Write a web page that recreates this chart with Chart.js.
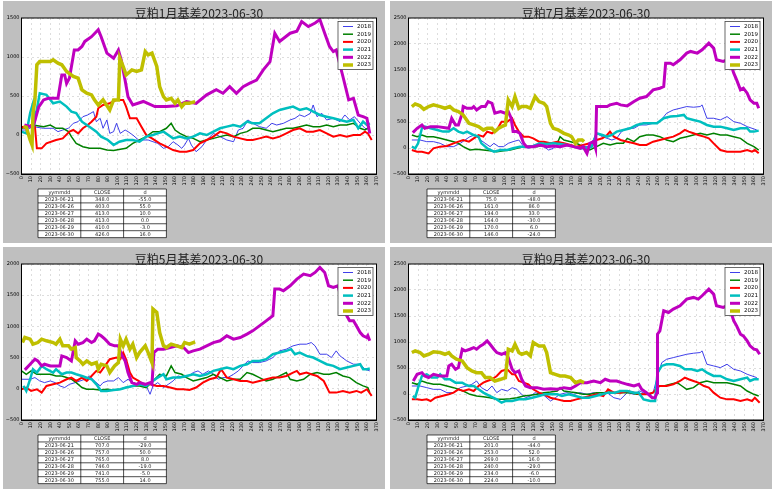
<!DOCTYPE html>
<html>
<head>
<meta charset="utf-8">
<script src="https://cdn.jsdelivr.net/npm/chart.js@4/dist/chart.umd.min.js"></script>
<style>
body { margin: 0; background: #fff; width: 774px; height: 492px; position: relative; overflow: hidden; }
.panel { position: absolute; width: 382px; height: 242px; background: #bfbfbf; }
.panel canvas { position: absolute; left: 0; top: 0; }
</style>
</head>
<body>
<div class="panel" style="left:3px;top:1px"><canvas id="c1" width="382" height="242"></canvas></div>
<div class="panel" style="left:390px;top:1px"><canvas id="c7" width="382" height="242"></canvas></div>
<div class="panel" style="left:3px;top:247px"><canvas id="c5" width="382" height="242"></canvas></div>
<div class="panel" style="left:390px;top:247px"><canvas id="c9" width="382" height="242"></canvas></div>
<script>
// legend / series
const years = ['2018', '2019', '2020', '2021', '2022', '2023'];
const colors = ['#2a2ae8', '#008000', '#ff0000', '#00bfbf', '#bf00bf', '#bfbf00'];
const widths = [0.9, 1.5, 2, 2.5, 3, 3.5];

// table
const tableHead = ['yymmdd', 'CLOSE', 'd'];
const dates = ['2023-06-21', '2023-06-26', '2023-06-27', '2023-06-28', '2023-06-29', '2023-06-30'];

// 豆粕1月基差 [day, basis]
const m1_2018 = [[0,64],[5,64],[12,107],[23,86],[33,86],[38,43],[43,64],[49,86],[54,150],[59,171],[64,235],[69,257],[75,300],[78,171],[82,214],[85,86],[89,193],[92,21],[96,43],[99,150],[103,21],[108,64],[111,43],[116,0],[122,-64],[127,-64],[132,-64],[137,-86],[142,-107],[148,-171],[153,-150],[158,-86],[163,-128],[167,-171],[170,-128],[174,-43],[177,-128],[182,-214],[188,-150],[193,-64],[200,21],[207,-21],[214,-64],[221,-86],[226,64],[231,86],[236,193],[241,150],[248,107],[255,86],[261,150],[266,128],[273,150],[280,193],[285,214],[290,257],[295,235],[301,278],[304,385],[308,235],[313,278],[318,193],[325,214],[332,171],[337,257],[342,193],[347,235],[353,150],[358,86],[363,64]];
const m1_2019 = [[0,86],[12,128],[23,107],[30,128],[36,86],[43,86],[49,43],[52,-21],[57,-107],[64,-150],[71,-171],[82,-171],[89,-193],[96,-200],[103,-184],[109,-171],[116,-107],[123,-64],[130,-21],[137,43],[144,43],[151,86],[156,150],[160,64],[165,21],[172,-21],[179,-43],[186,-86],[193,-64],[200,-43],[207,-21],[214,0],[221,-21],[228,21],[235,43],[241,86],[248,86],[255,64],[262,43],[269,64],[276,86],[283,86],[290,107],[297,128],[304,107],[311,107],[318,128],[325,107],[332,128],[339,128],[346,150],[353,86],[358,64],[363,107]];
const m1_2020 = [[0,107],[5,86],[10,128],[14,107],[16,-171],[21,-171],[26,-107],[36,-64],[43,-43],[50,43],[54,64],[59,21],[64,86],[69,128],[73,171],[78,235],[80,343],[85,385],[92,407],[99,450],[106,450],[109,364],[113,214],[120,214],[125,107],[130,0],[136,-43],[144,-107],[151,-150],[158,-193],[165,-214],[172,-214],[179,-193],[186,-107],[193,-64],[200,-21],[207,43],[214,21],[221,-21],[228,-43],[235,-64],[241,-64],[248,-43],[255,-21],[262,-43],[269,-21],[276,21],[283,64],[290,86],[297,43],[304,43],[311,64],[318,21],[325,-21],[332,0],[339,-21],[346,0],[353,0],[358,43],[361,21],[365,-64]];
const m1_2021 = [[0,43],[5,21],[9,280],[12,407],[14,190],[19,535],[26,514],[33,407],[40,428],[47,364],[52,300],[57,280],[63,171],[68,128],[73,86],[78,43],[83,-21],[90,-64],[96,-128],[102,-86],[109,-64],[116,-64],[123,-86],[130,-21],[137,0],[142,21],[148,43],[153,0],[158,-43],[165,-21],[172,-43],[179,-21],[186,21],[193,0],[200,43],[207,86],[214,107],[221,128],[228,107],[235,171],[241,150],[248,150],[255,214],[262,278],[269,321],[276,343],[283,364],[290,321],[297,343],[304,300],[311,257],[318,235],[325,214],[332,193],[339,171],[346,193],[351,86],[356,171],[360,128],[363,150]];
const m1_2022 = [[3,130],[12,100],[18,360],[23,450],[28,470],[38,470],[42,770],[45,770],[47,660],[50,730],[55,1090],[59,1090],[63,1135],[66,1200],[73,1260],[80,1350],[83,1260],[89,1050],[96,985],[101,1090],[104,960],[108,700],[111,490],[116,385],[127,430],[139,365],[151,365],[162,375],[172,430],[182,405],[193,515],[203,580],[210,535],[217,620],[224,535],[231,620],[238,665],[245,705],[252,835],[259,940],[264,1305],[269,1200],[280,1305],[287,1330],[292,1455],[299,1390],[306,1435],[311,1480],[316,1305],[321,1135],[325,1070],[328,1090],[335,750],[341,450],[346,470],[351,255],[356,235],[360,215],[363,20]];
const m1_2023 = [[2,107],[5,100],[9,-64],[11,-128],[12,280],[14,450],[16,900],[19,942],[30,942],[33,964],[38,920],[42,900],[47,814],[54,750],[59,728],[63,578],[68,535],[73,514],[76,450],[80,385],[85,450],[92,321],[96,450],[101,450],[102.5,985],[106,878],[109,770],[115,835],[120,814],[125,835],[129,1070],[132,1028],[136,1050],[141,878],[144,620],[148,493],[151,450],[156,470],[160,407],[163,450],[167,364],[170,407],[175,407],[181,428]];
const m1_close = [348, 403, 413, 413, 410, 426];
const m1_d = [-55, 55, 10, 0, -3, 16];

// 豆粕7月基差
const m7_2018 = [[3.5,154],[12,154],[19,122],[26,122],[33,90],[40,26],[47,26],[54,90],[59,154],[64,218],[69,250],[75,154],[80,90],[85,26],[89,90],[94,26],[99,26],[104,90],[109,122],[115,154],[120,26],[125,-6],[130,26],[136,58],[141,26],[146,-39],[151,-6],[156,90],[162,26],[167,58],[172,26],[177,-6],[182,26],[189,26],[196,283],[202,218],[207,186],[212,154],[217,186],[222,315],[228,379],[235,379],[241,443],[248,443],[255,475],[262,507],[269,668],[276,732],[283,764],[290,797],[297,784],[304,797],[306,829],[311,572],[318,572],[325,540],[332,604],[339,507],[346,475],[353,411],[358,379],[363,347]];
const m7_2019 = [[3.5,250],[9,218],[14,250],[19,218],[26,218],[33,186],[40,154],[47,122],[52,90],[57,26],[64,-39],[71,-26],[78,-39],[85,-51],[92,-71],[99,-51],[106,-39],[113,-6],[120,26],[127,26],[134,26],[141,58],[148,90],[155,90],[158,218],[162,154],[169,122],[175,90],[182,26],[189,-39],[196,26],[203,90],[210,58],[217,90],[224,90],[228,186],[235,122],[241,218],[248,250],[255,250],[262,218],[269,154],[276,122],[283,186],[290,218],[297,250],[304,283],[311,250],[318,283],[325,250],[332,250],[339,218],[346,186],[353,90],[360,26],[365,-39]];
const m7_2020 = [[3.5,-39],[9,-71],[14,-71],[21,-103],[26,-6],[33,26],[40,39],[47,90],[52,122],[57,154],[63,122],[68,186],[73,250],[78,218],[82,315],[87,283],[92,347],[97,507],[103,507],[108,572],[111,443],[115,315],[120,218],[125,218],[130,186],[136,122],[141,122],[148,90],[155,122],[162,90],[169,58],[175,26],[182,58],[189,90],[196,154],[202,186],[207,250],[210,315],[214,218],[221,154],[228,122],[235,90],[241,58],[248,58],[255,122],[262,154],[269,186],[276,218],[283,283],[288,347],[292,315],[297,283],[302,250],[308,218],[313,186],[318,90],[325,-39],[332,-71],[339,-71],[346,-71],[353,-39],[358,-71],[361,-39],[365,-103]];
const m7_2021 = [[3.5,26],[7,-6],[10,90],[14,379],[17,411],[23,379],[30,347],[36,315],[42,315],[47,379],[52,315],[57,283],[61,315],[68,250],[73,218],[76,90],[82,-6],[89,-71],[96,-39],[103,-39],[109,-6],[116,26],[123,26],[130,39],[137,90],[144,77],[151,90],[158,77],[165,58],[172,26],[179,-6],[186,-6],[191,26],[196,283],[202,250],[207,218],[212,250],[217,315],[224,347],[231,379],[238,443],[245,475],[252,475],[259,475],[266,572],[273,604],[280,617],[287,636],[290,572],[297,540],[304,507],[311,443],[318,411],[325,411],[332,379],[339,347],[346,379],[353,379],[356,315],[360,315],[365,334]];
const m7_2022 = [[4.5,295],[9,379],[14,443],[17,379],[23,411],[30,411],[42,379],[45,572],[49,443],[52,443],[56,668],[57,797],[61,764],[66,764],[68,797],[71,732],[76,797],[80,797],[83,893],[87,861],[90,668],[96,700],[101,668],[104,700],[107,572],[109,315],[113,315],[116,283],[120,90],[123,26],[130,26],[137,58],[144,26],[151,39],[158,26],[165,58],[172,26],[179,-6],[182,26],[186,-103],[189,90],[193,122],[195,-6],[196,797],[202,797],[207,797],[210,829],[217,861],[221,829],[228,810],[235,893],[241,957],[248,989],[255,1118],[262,1150],[266,1182],[268,1632],[273,1632],[276,1600],[283,1696],[290,1825],[294,1857],[301,1825],[306,1889],[313,2017],[318,1921],[321,1696],[328,1664],[332,1696],[335,1664],[339,1439],[342,1310],[346,1118],[349,1150],[353,1054],[356,925],[360,861],[363,861],[365,764]];
const m7_2023 = [[3.5,797],[7,848],[12,810],[16,745],[21,797],[26,829],[33,797],[38,764],[43,797],[47,732],[52,700],[57,636],[63,475],[68,443],[73,411],[78,347],[82,379],[87,379],[90,315],[94,379],[97,411],[101,443],[104,925],[108,797],[111,989],[115,764],[118,797],[123,797],[127,764],[132,989],[136,893],[141,861],[144,797],[148,475],[151,379],[156,347],[162,283],[167,250],[170,218],[174,90],[177,154],[181,154],[183,122]];
const m7_close = [75, 161, 194, 164, 170, 146];
const m7_d = [-48, 86, 33, -30, 6, -24];

// 豆粕5月基差
const m5_2018 = [[0,153],[9,153],[14,180],[19,126],[24,99],[30,126],[35,99],[40,46],[45,20],[50,72],[56,99],[61,126],[66,153],[71,206],[76,126],[82,46],[85,99],[90,126],[96,126],[101,180],[106,99],[111,153],[115,99],[120,72],[125,46],[130,46],[134,-88],[137,46],[142,99],[148,20],[153,72],[158,126],[163,206],[169,180],[174,206],[179,260],[184,287],[189,233],[195,287],[200,233],[205,153],[210,180],[215,180],[221,233],[226,287],[231,367],[236,447],[241,420],[248,420],[255,447],[262,501],[269,608],[276,635],[283,688],[290,715],[297,715],[302,741],[306,688],[311,554],[318,554],[323,501],[328,608],[332,527],[339,447],[346,394],[353,394],[358,314],[363,287]];
const m5_2019 = [[0,287],[5,233],[10,287],[16,233],[23,233],[30,233],[36,206],[42,206],[47,180],[52,153],[57,99],[63,20],[68,-7],[75,-7],[82,-18],[89,-7],[96,-18],[103,-7],[109,20],[116,46],[123,46],[130,20],[137,126],[144,233],[151,206],[156,367],[160,260],[167,233],[172,180],[179,126],[186,153],[193,180],[200,233],[207,180],[214,126],[221,153],[228,153],[235,260],[241,233],[248,180],[255,126],[262,153],[269,206],[276,260],[280,153],[287,126],[294,153],[301,233],[308,260],[315,233],[321,233],[328,260],[335,206],[342,180],[349,99],[356,46],[361,20],[363,-61]];
const m5_2020 = [[0,-7],[5,20],[10,-34],[16,-7],[21,-61],[26,46],[33,72],[40,99],[47,153],[52,180],[57,126],[63,180],[68,126],[73,206],[78,287],[82,260],[87,367],[92,474],[99,501],[103,474],[106,581],[109,474],[113,260],[116,180],[122,126],[127,72],[134,72],[141,46],[148,46],[155,20],[162,-7],[169,-7],[175,-18],[182,20],[189,99],[196,153],[203,180],[208,314],[214,180],[221,153],[228,126],[235,126],[241,99],[248,126],[255,153],[262,180],[269,180],[276,206],[283,260],[287,287],[290,233],[297,260],[302,233],[308,206],[315,126],[321,-61],[328,-61],[335,-34],[342,-61],[349,-34],[354,-61],[360,-7],[365,-114]];
const m5_2021 = [[2,46],[5,-34],[9,153],[12,314],[16,260],[21,367],[26,314],[33,260],[36,314],[42,233],[47,260],[52,260],[57,233],[63,206],[68,180],[73,153],[78,72],[83,-34],[89,-34],[96,-18],[103,-7],[109,20],[116,46],[123,72],[130,46],[137,126],[142,180],[148,233],[151,153],[158,180],[165,180],[172,206],[179,233],[186,206],[193,233],[200,287],[207,314],[214,340],[221,314],[228,367],[235,394],[241,447],[248,447],[255,474],[262,554],[269,581],[276,608],[281,635],[285,554],[290,581],[297,527],[304,501],[311,447],[318,394],[325,367],[332,314],[339,340],[346,367],[353,394],[356,314],[360,314],[363,324]];
const m5_2022 = [[3.5,303],[9,394],[14,474],[17,447],[21,367],[24,394],[30,367],[40,367],[42,527],[47,501],[52,447],[56,769],[59,715],[64,741],[68,795],[73,741],[76,769],[80,876],[83,849],[87,795],[92,715],[97,688],[101,688],[104,554],[108,447],[111,260],[115,99],[120,72],[123,99],[129,72],[134,99],[136,72],[138,581],[142,635],[148,635],[155,661],[162,688],[169,661],[174,581],[179,608],[186,635],[193,688],[200,741],[207,769],[214,849],[221,795],[228,822],[235,876],[241,929],[248,1009],[255,1089],[262,1170],[264,1598],[269,1598],[273,1571],[280,1651],[287,1758],[294,1838],[301,1812],[306,1865],[311,1945],[316,1865],[320,1651],[325,1625],[330,1651],[335,1330],[339,1170],[342,1089],[346,1089],[349,1009],[353,902],[356,849],[360,822],[361,849],[363,769]];
const m5_2023 = [[1,741],[3.5,822],[9,795],[12,715],[17,741],[21,795],[26,769],[33,741],[36,715],[40,795],[43,688],[49,688],[52,635],[56,661],[57,501],[61,447],[64,394],[68,447],[73,394],[78,420],[80,314],[83,394],[89,367],[92,260],[97,367],[101,420],[103,795],[106,688],[109,795],[113,635],[116,715],[120,501],[123,581],[129,688],[132,581],[136,420],[137,1277],[141,1223],[144,902],[148,688],[151,661],[156,715],[162,688],[167,661],[170,741],[175,715],[181,751]];
const m5_close = [707, 757, 765, 746, 741, 755];
const m5_d = [-29, 50, 8, -19, -5, 14];

// 豆粕9月基差
const m9_2018 = [[3.5,154],[12,154],[19,122],[26,90],[33,90],[40,26],[47,26],[54,122],[61,154],[66,186],[71,250],[76,122],[82,58],[87,154],[92,26],[97,90],[103,58],[108,122],[113,90],[116,26],[122,-71],[127,-39],[132,26],[137,-6],[142,-39],[148,-135],[153,-71],[158,-6],[165,26],[172,-6],[179,26],[186,-6],[193,26],[200,-6],[207,26],[214,-71],[221,-103],[228,26],[235,-6],[241,58],[248,-6],[255,26],[259.5,347],[264,604],[269,668],[276,700],[283,732],[290,764],[297,784],[304,797],[306,829],[311,572],[318,540],[325,507],[332,572],[339,475],[346,443],[353,379],[358,347],[363,315]];
const m9_2019 = [[3.5,218],[9,186],[14,250],[19,218],[26,186],[33,186],[40,154],[47,122],[52,90],[57,58],[64,-6],[71,-39],[78,-51],[85,-71],[92,-103],[99,-103],[106,-90],[113,-71],[120,-39],[127,-26],[134,-6],[141,26],[148,39],[155,58],[158,122],[162,58],[169,39],[175,26],[182,-6],[189,-6],[196,26],[203,26],[210,39],[217,26],[224,26],[231,26],[238,-6],[245,-6],[252,-6],[257,58],[261,154],[266,154],[273,186],[280,218],[285,154],[290,90],[297,122],[304,218],[311,250],[318,218],[325,218],[332,218],[339,186],[346,154],[353,58],[360,-6],[365,-39]];
const m9_2020 = [[3.5,-103],[9,-103],[14,-116],[19,-103],[23,-135],[28,-71],[35,-39],[42,-6],[47,26],[52,90],[57,58],[63,90],[68,58],[73,154],[78,218],[82,250],[87,283],[92,347],[97,443],[103,475],[108,379],[111,379],[115,250],[120,218],[125,186],[130,90],[136,26],[141,-6],[148,-71],[155,-103],[162,-135],[169,-135],[175,-103],[182,-71],[189,-39],[196,-6],[203,-39],[208,90],[214,26],[221,26],[228,58],[235,26],[241,-6],[248,-6],[255,26],[259,122],[262,154],[269,154],[276,186],[283,250],[288,315],[292,283],[297,250],[302,218],[308,154],[313,122],[318,26],[325,-71],[332,-103],[339,-103],[346,-135],[353,-103],[358,-135],[361,-71],[366,-167]];
const m9_2021 = [[4.5,-39],[7,-71],[10,122],[14,347],[19,379],[24,315],[30,315],[33,379],[38,283],[43,283],[49,218],[56,218],[59,186],[63,154],[68,154],[73,90],[78,26],[85,-39],[92,-103],[97,-167],[101,-135],[108,-135],[115,-103],[122,-103],[129,-71],[136,-39],[142,-6],[148,-6],[155,-6],[160,-39],[167,-6],[174,-39],[181,-71],[188,-71],[195,-39],[202,-6],[208,26],[215,26],[221,58],[228,58],[235,26],[240,26],[245,-103],[252,-135],[257,-135],[259.5,411],[264,540],[269,572],[276,572],[283,540],[288,475],[295,475],[301,443],[306,475],[311,411],[318,347],[325,347],[332,283],[339,250],[346,283],[353,315],[356,250],[360,283],[365,283]];
const m9_2022 = [[5,250],[9,379],[14,411],[17,347],[21,315],[26,379],[33,347],[40,347],[42,540],[45,572],[49,475],[52,507],[56,861],[59,829],[64,861],[68,893],[71,861],[75,925],[78,957],[82,1021],[85,957],[89,861],[92,797],[97,764],[101,797],[104,700],[108,475],[111,411],[115,443],[118,283],[122,154],[127,122],[134,122],[141,90],[148,103],[155,90],[162,122],[169,103],[174,154],[179,218],[186,218],[193,250],[200,218],[205,283],[210,250],[217,250],[222,218],[228,186],[235,154],[240,186],[243,90],[248,26],[254,-71],[257,-71],[259,26],[259.5,1150],[262,1214],[266,1600],[271,1567],[276,1632],[283,1696],[290,1825],[297,1857],[302,1825],[306,1889],[313,2017],[318,1921],[321,1696],[328,1664],[332,1696],[335,1632],[339,1407],[342,1310],[346,1150],[349,1118],[353,1021],[356,925],[360,861],[363,848],[366,764]];
const m9_2023 = [[3.5,797],[7,829],[12,797],[16,732],[21,764],[26,810],[33,797],[38,764],[42,797],[45,732],[50,668],[56,636],[61,507],[66,443],[71,411],[76,411],[80,315],[85,315],[90,250],[96,283],[101,315],[104,861],[108,829],[111,957],[115,797],[118,764],[123,797],[127,732],[130,989],[136,925],[141,925],[144,797],[148,411],[153,379],[158,347],[163,347],[169,315],[174,218],[179,250],[183,218]];
const m9_close = [201, 253, 269, 240, 234, 224];
const m9_d = [-44, 52, 16, -29, -6, -10];

// frame, title, legend and table drawn on the canvas
const panelPlugin = {
    id: 'panel',
    beforeDraw(chart) {
        const { ctx, chartArea: a } = chart;
        ctx.save();
        ctx.fillStyle = '#fff';
        ctx.fillRect(a.left, a.top, a.right - a.left, a.bottom - a.top);
        ctx.restore();
    },
    afterDraw(chart, args, opts) {
        const { ctx, chartArea: a } = chart;
        ctx.save();
        ctx.strokeStyle = '#000';
        ctx.lineWidth = 1;
        ctx.strokeRect(a.left, a.top, a.right - a.left, a.bottom - a.top);

        // title
        ctx.fillStyle = '#222';
        ctx.font = '12px "Noto Sans CJK SC"';
        ctx.textAlign = 'center';
        ctx.textBaseline = 'middle';
        ctx.fillText(opts.title, (a.left + a.right) / 2, 12);

        // legend
        const bw = 35, bh = 48;
        const bx = a.right - 3.5 - bw, by = a.top + 3.5;
        ctx.fillStyle = '#fff';
        ctx.fillRect(bx, by, bw, bh);
        ctx.strokeStyle = '#444';
        ctx.lineWidth = 0.8;
        ctx.strokeRect(bx, by, bw, bh);
        ctx.font = '5.5px "DejaVu Sans"';
        ctx.textAlign = 'left';
        chart.data.datasets.forEach((ds, i) => {
            const y = by + 5 + i * 7.7;
            ctx.strokeStyle = ds.borderColor;
            ctx.lineWidth = ds.borderWidth;
            ctx.beginPath();
            ctx.moveTo(bx + 5, y);
            ctx.lineTo(bx + 15, y);
            ctx.stroke();
            ctx.fillStyle = '#000';
            ctx.fillText(ds.label, bx + 19, y);
        });

        // table
        const rows = [tableHead].concat(dates.map((d, i) =>
            [d, opts.close[i].toFixed(1), opts.d[i].toFixed(1)]));
        const tx = opts.tableX, ty = 188, cw = 42.8, rh = 6.95;
        ctx.fillStyle = '#fff';
        ctx.fillRect(tx, ty, cw * 3, rh * rows.length);
        ctx.strokeStyle = '#000';
        ctx.lineWidth = 0.7;
        for (let r = 0; r <= rows.length; r++) {
            ctx.beginPath();
            ctx.moveTo(tx, ty + r * rh);
            ctx.lineTo(tx + cw * 3, ty + r * rh);
            ctx.stroke();
        }
        for (let c = 0; c <= 3; c++) {
            ctx.beginPath();
            ctx.moveTo(tx + c * cw, ty);
            ctx.lineTo(tx + c * cw, ty + rh * rows.length);
            ctx.stroke();
        }
        ctx.fillStyle = '#222';
        ctx.font = '5px "DejaVu Sans"';
        ctx.textAlign = 'center';
        rows.forEach((row, r) => {
            row.forEach((txt, c) => {
                ctx.fillText(txt, tx + c * cw + cw / 2, ty + r * rh + rh / 2 + 0.3);
            });
        });
        ctx.restore();
    }
};

function drawPanel(id, title, seriesList, yMax, close, d, tableX) {
    const datasets = seriesList.map((s, i) => ({
        label: years[i],
        data: s.map(([x, y]) => ({ x: x, y: y })),
        borderColor: colors[i],
        borderWidth: widths[i],
        pointRadius: 0,
        tension: 0,
        fill: false,
        order: 5 - i
    }));
    new Chart(document.getElementById(id).getContext('2d'), {
        type: 'line',
        data: { datasets: datasets },
        options: {
            responsive: false,
            animation: false,
            layout: { padding: { top: 17, right: 8.5, left: 0, bottom: 0 } },
            plugins: {
                legend: { display: false },
                tooltip: { enabled: false },
                panel: { title: title, close: close, d: d, tableX: tableX }
            },
            scales: {
                x: {
                    type: 'linear', min: 0, max: 370,
                    afterFit: s => { s.height = 69; },
                    ticks: {
                        stepSize: 10, minRotation: 90, maxRotation: 90, autoSkip: false,
                        padding: 2, color: '#000',
                        font: { size: 5, family: 'DejaVu Sans' }
                    },
                    grid: { color: '#cfcfcf', lineWidth: 0.7, drawTicks: false },
                    border: { display: true, color: '#000', dash: [2, 3] }
                },
                y: {
                    min: -500, max: yMax,
                    afterFit: s => { s.width = 18.5; },
                    ticks: {
                        stepSize: 500, padding: 2, color: '#000',
                        font: { size: 5, family: 'DejaVu Sans' },
                        callback: v => String(v).replace('-', '\u2212')
                    },
                    grid: { color: '#cfcfcf', lineWidth: 0.7, drawTicks: false },
                    border: { display: true, color: '#000', dash: [2, 3] }
                }
            }
        },
        plugins: [panelPlugin]
    });
}

drawPanel('c1', '豆粕1月基差2023-06-30', [m1_2018, m1_2019, m1_2020, m1_2021, m1_2022, m1_2023], 1500, m1_close, m1_d, 35);
drawPanel('c7', '豆粕7月基差2023-06-30', [m7_2018, m7_2019, m7_2020, m7_2021, m7_2022, m7_2023], 2500, m7_close, m7_d, 37);
drawPanel('c5', '豆粕5月基差2023-06-30', [m5_2018, m5_2019, m5_2020, m5_2021, m5_2022, m5_2023], 2000, m5_close, m5_d, 35);
drawPanel('c9', '豆粕9月基差2023-06-30', [m9_2018, m9_2019, m9_2020, m9_2021, m9_2022, m9_2023], 2500, m9_close, m9_d, 37);
</script>
</body>
</html>
